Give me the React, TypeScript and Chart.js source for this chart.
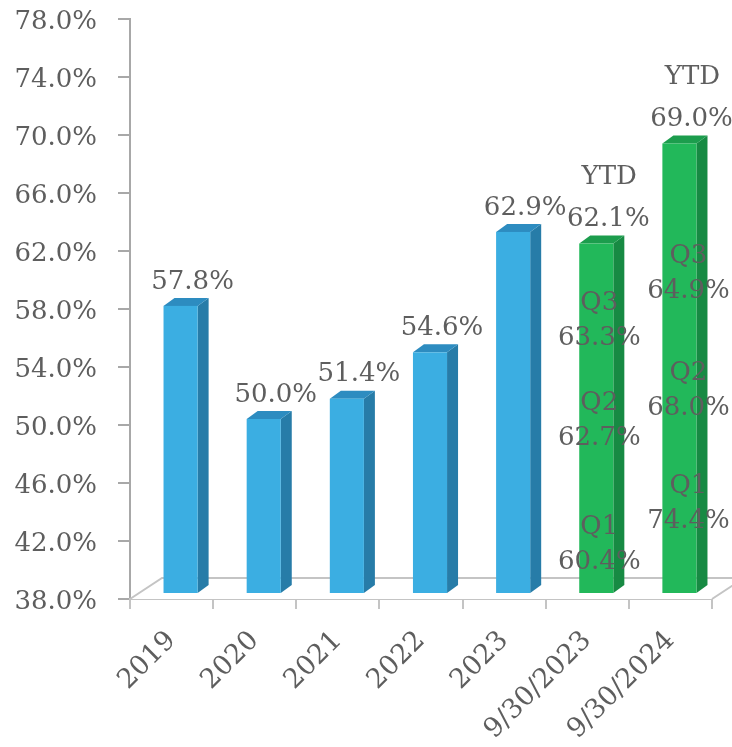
import React, { useEffect, useRef } from 'react';
import { Chart, registerables } from 'chart.js';

Chart.register(...registerables);

const categories = ['2019', '2020', '2021', '2022', '2023', '9/30/2023', '9/30/2024'];
const values = [57.8, 50.0, 51.4, 54.6, 62.9, 62.1, 69.0];
const isYtd = [false, false, false, false, false, true, true];
const ytdText = 'YTD';
const quarterNames = ['Q3', 'Q2', 'Q1'];
const quarters2023 = [63.3, 62.7, 60.4];
const quarters2024 = [64.9, 68.0, 74.4];
const quarterSeries: Record<number, number[]> = { 5: quarters2023, 6: quarters2024 };

const FONT = '"DejaVu Serif", serif';
const TEXT = '#5e5e5e';

// layout of hand-placed quarter annotations (value-axis anchors and x offsets)
const quarterLayout: Record<number, { anchors: number[]; dx: number }> = {
  5: { anchors: [57.2, 50.3, 41.8], dx: 12 },
  6: { anchors: [60.5, 52.4, 44.6], dx: 18 },
};

const fmt = (v: number) => v.toFixed(1) + '%';

const threeD = {
  id: 'threeD',
  beforeDatasetsDraw(chart: any) {
    const { ctx, chartArea } = chart;
    const L = chartArea.left, R = chartArea.right, B = chartArea.bottom;
    const dx = 32, dy = -21;
    ctx.save();
    ctx.fillStyle = '#ffffff';
    ctx.beginPath();
    ctx.moveTo(L, B);
    ctx.lineTo(L + dx, B + dy);
    ctx.lineTo(R + dx, B + dy);
    ctx.lineTo(R, B);
    ctx.closePath();
    ctx.fill();
    ctx.strokeStyle = '#c4c4c4';
    ctx.lineWidth = 2;
    ctx.beginPath();
    ctx.moveTo(L, B);
    ctx.lineTo(L + dx, B + dy);
    ctx.lineTo(R + dx, B + dy);
    ctx.moveTo(R, B);
    ctx.lineTo(R + dx, B + dy);
    ctx.stroke();
    ctx.restore();
  },
  afterDatasetsDraw(chart: any) {
    const { ctx, chartArea } = chart;
    const yScale = chart.scales.y;
    const meta = chart.getDatasetMeta(0);
    const fdx = 9, fdy = -6, sdx = 11, sdy = -8;
    ctx.save();
    meta.data.forEach((el: any, i: number) => {
      const p = el.getProps(['x', 'y', 'base', 'width'], true);
      const base = Math.min(p.base, chartArea.bottom);
      const x0 = p.x - p.width / 2 + fdx;
      const x1 = x0 + p.width;
      const yT = p.y + fdy;
      const yB = base + fdy;
      const green = isYtd[i];
      const front = green ? '#22b85a' : '#3baee2';
      const side = green ? '#178a43' : '#277ca8';
      const top = green ? '#1c9d4d' : '#2d8cc0';
      ctx.fillStyle = side;
      ctx.beginPath();
      ctx.moveTo(x1, yT);
      ctx.lineTo(x1 + sdx, yT + sdy);
      ctx.lineTo(x1 + sdx, yB + sdy);
      ctx.lineTo(x1, yB);
      ctx.closePath();
      ctx.fill();
      ctx.fillStyle = top;
      ctx.beginPath();
      ctx.moveTo(x0, yT);
      ctx.lineTo(x0 + sdx, yT + sdy);
      ctx.lineTo(x1 + sdx, yT + sdy);
      ctx.lineTo(x1, yT);
      ctx.closePath();
      ctx.fill();
      ctx.fillStyle = front;
      ctx.fillRect(x0, yT, p.width, yB - yT);
    });

    ctx.fillStyle = TEXT;
    ctx.font = `26px ${FONT}`;
    ctx.textAlign = 'center';
    ctx.textBaseline = 'middle';
    meta.data.forEach((el: any, i: number) => {
      const p = el.getProps(['x', 'y'], true);
      const cx = p.x + 21;
      const cy = p.y - 30;
      ctx.fillText(fmt(values[i]), cx, cy);
      if (isYtd[i]) ctx.fillText(ytdText, cx + 1, cy - 42);
      const qs = quarterSeries[i];
      const lay = quarterLayout[i];
      if (qs && lay) {
        qs.forEach((q, k) => {
          const yc = yScale.getPixelForValue(lay.anchors[k]);
          ctx.fillText(quarterNames[k], p.x + lay.dx, yc - 17);
          ctx.fillText(fmt(q), p.x + lay.dx, yc + 18);
        });
      }
    });
    ctx.restore();
  },
};

export default function App() {
  const ref = useRef<HTMLCanvasElement | null>(null);
  useEffect(() => {
    if (!ref.current) return;
    const chart = new Chart(ref.current, {
      type: 'bar',
      data: {
        labels: categories,
        datasets: [
          {
            data: values,
            backgroundColor: 'rgba(0,0,0,0)',
            borderWidth: 0,
            categoryPercentage: 1,
            barPercentage: 0.41,
          },
        ],
      },
      options: {
        responsive: false,
        animation: false,
        devicePixelRatio: 1,
        layout: { padding: { top: 19, right: 20, left: 0, bottom: 0 } },
        plugins: { legend: { display: false }, tooltip: { enabled: false } },
        scales: {
          y: {
            min: 38,
            max: 78,
            afterFit: (s: any) => { s.width = 130; s.paddingTop = 0; s.paddingBottom = 0; },
            ticks: {
              stepSize: 4,
              padding: 21,
              labelOffset: 3,
              color: TEXT,
              font: { family: FONT, size: 26 },
              callback: (v: any) => fmt(Number(v)),
            },
            grid: { drawOnChartArea: false, drawTicks: true, tickLength: 12, color: '#a8a8a8', lineWidth: 2 },
            border: { display: true, color: '#a8a8a8', width: 2 },
          },
          x: {
            afterFit: (s: any) => { s.height = 148; },
            ticks: {
              autoSkip: false,
              minRotation: 45,
              maxRotation: 45,
              padding: 16,
              color: TEXT,
              font: { family: FONT, size: 27 },
            },
            grid: { drawOnChartArea: false, drawTicks: true, tickLength: 10, color: '#c4c4c4', lineWidth: 2, offset: true },
            border: { display: true, color: '#c4c4c4', width: 2 },
          },
        },
      },
      plugins: [threeD],
    } as any);
    return () => chart.destroy();
  }, []);
  return (
    <div style={{ position: 'absolute', left: 0, top: 0, width: 732, height: 747, background: '#fff' }}>
      <canvas ref={ref} width={732} height={747} style={{ width: 732, height: 747, display: 'block' }} />
    </div>
  );
}
